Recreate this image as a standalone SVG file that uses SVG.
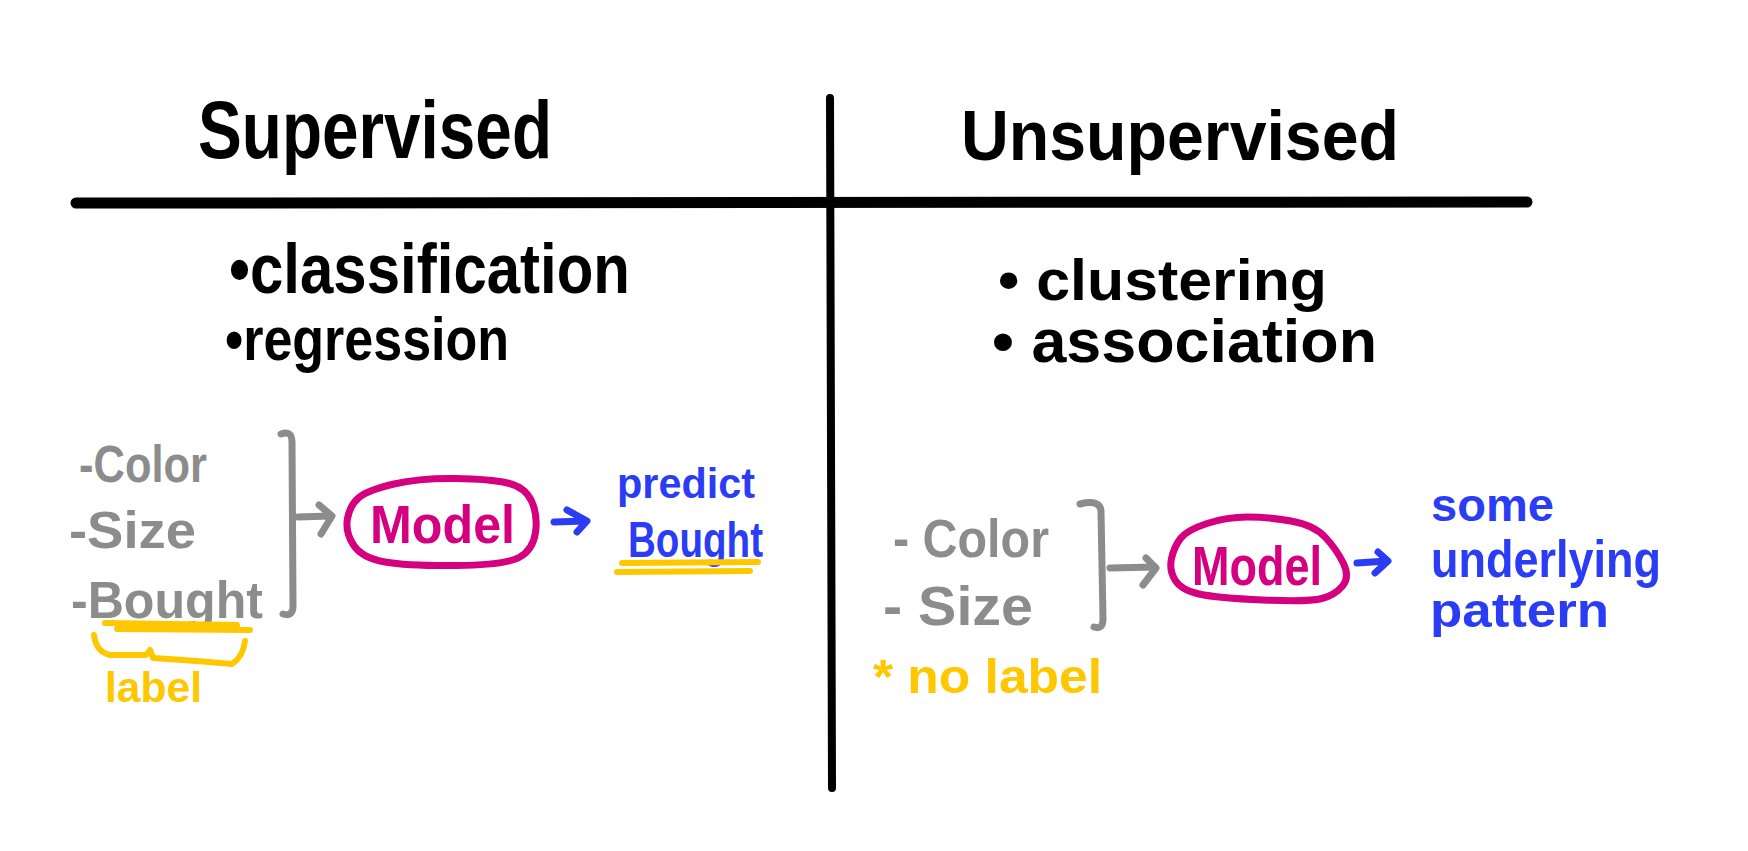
<svg xmlns="http://www.w3.org/2000/svg" width="1748" height="851" viewBox="0 0 1748 851">
<style>
text{font-family:"Liberation Sans","DejaVu Sans",sans-serif;font-weight:bold}
.k{fill:#000}
.g{fill:#8c8c8c}
.m{fill:#d4007f}
.b{fill:#2b3cf5}
.y{fill:#ffc700}
.ln{fill:none;stroke-linecap:round;stroke-linejoin:round}
.gs{stroke:#8c8c8c;stroke-width:7}
.bs{stroke:#2b3cf5;stroke-width:7}
.ys{stroke:#ffc700;stroke-width:6}
.ms{stroke:#d4007f;stroke-width:7}
</style>
<rect width="1748" height="851" fill="#fff"/>
<g id="grid">
<path class="ln" d="M830,98 L832,788" stroke="#000" stroke-width="8"/>
<path class="ln" d="M76,203 L1527,202" stroke="#000" stroke-width="11"/>
</g>
<g id="headings">
<text class="k" x="198" y="158" font-size="82" textLength="354" lengthAdjust="spacingAndGlyphs">Supervised</text>
<text class="k" x="961" y="160" font-size="70" textLength="438" lengthAdjust="spacingAndGlyphs">Unsupervised</text>
</g>
<g id="sup-types">
<text class="k" x="229" y="293" font-size="70" textLength="401" lengthAdjust="spacingAndGlyphs">•classification</text>
<text class="k" x="225" y="360" font-size="62" textLength="284" lengthAdjust="spacingAndGlyphs">•regression</text>
</g>
<g id="unsup-types">
<text class="k" x="998" y="300" font-size="58" textLength="329" lengthAdjust="spacingAndGlyphs">• clustering</text>
<text class="k" x="992" y="362" font-size="62" textLength="385" lengthAdjust="spacingAndGlyphs">• association</text>
</g>
<g id="sup-features">
<text class="g" x="79" y="482" font-size="52" textLength="128" lengthAdjust="spacingAndGlyphs">-Color</text>
<text class="g" x="69" y="548" font-size="52" textLength="127" lengthAdjust="spacingAndGlyphs">-Size</text>
<text class="g" x="71" y="618" font-size="52" textLength="192" lengthAdjust="spacingAndGlyphs">-Bought</text>
<path class="ln ys" d="M105,623 L237,625 M117,629 L250,630"/>
<path class="ln ys" d="M94,635 Q96,652 110,655 L146,655 L150,650 L153,658 Q200,661 232,664 Q243,657 245,641"/>
<text class="y" x="105" y="702" font-size="42" textLength="97" lengthAdjust="spacingAndGlyphs">label</text>
</g>
<g id="sup-model">
<path class="ln ms" d="M394,484 Q420,478 455,478.5 Q490,479 507.5,483 Q525,487 531.5,501 Q538,515 535.5,532.5 Q533,550 519,557.5 Q505,565 456.5,565.5 Q408,566 385,562 Q362,558 353.5,545 Q345,532 347.5,518.5 Q350,505 359,497.5 Q368,490 394,484 Z"/>
<text class="m" x="370" y="543" font-size="53" textLength="145" lengthAdjust="spacingAndGlyphs">Model</text>
</g>
<g id="sup-output">
<text class="b" x="617" y="498" font-size="43" textLength="138" lengthAdjust="spacingAndGlyphs">predict</text>
<text class="b" x="628" y="557" font-size="50" textLength="135" lengthAdjust="spacingAndGlyphs">Bought</text>
<path class="ln ys" d="M622,563 L758,562 M617,572 L750,571"/>
</g>
<g id="unsup-features">
<text class="g" x="893" y="557" font-size="53" textLength="156" lengthAdjust="spacingAndGlyphs">- Color</text>
<text class="g" x="883" y="625" font-size="56" textLength="150" lengthAdjust="spacingAndGlyphs">- Size</text>
<text class="y" x="873" y="693" font-size="48" textLength="229" lengthAdjust="spacingAndGlyphs">* no label</text>
</g>
<g id="unsup-model">
<path class="ln ms" d="M1207,523.5 Q1227,517 1247.5,517 Q1268,517 1291,521 Q1314,525 1325.5,537.5 Q1337,550 1343.5,563.5 Q1350,577 1342.5,586 Q1335,595 1322,598.5 Q1309,602 1263,600 Q1217,598 1199,594 Q1181,590 1175,580 Q1169,570 1171.5,558.5 Q1174,547 1180.5,538.5 Q1187,530 1207,523.5 Z"/>
<text class="m" x="1192" y="585" font-size="55" textLength="130" lengthAdjust="spacingAndGlyphs">Model</text>
</g>
<g id="unsup-output">
<text class="b" x="1431" y="521" font-size="46" textLength="123" lengthAdjust="spacingAndGlyphs">some</text>
<text class="b" x="1431" y="577" font-size="52" textLength="230" lengthAdjust="spacingAndGlyphs">underlying</text>
<text class="b" x="1430" y="627" font-size="48" textLength="179" lengthAdjust="spacingAndGlyphs">pattern</text>
</g>
<g id="connectors">
<path class="ln gs" d="M281,434 Q292,430 292,442 L293,606 Q293,617 283,614"/>
<path class="ln gs" d="M298,517 L331,516 M319,505 L332,516 L321,534"/>
<path class="ln bs" d="M554,522 L586,521 M567,510 L587,521 L577,532"/>
<path class="ln gs" d="M1080,504 Q1101,499 1101,512 L1103,619 Q1103,630 1094,627"/>
<path class="ln gs" d="M1110,568 L1155,567 M1146,558 L1156,568 L1143,585"/>
<path class="ln bs" d="M1357,563 L1387,561 M1378,552 L1388,561 L1375,573"/>
</g>
</svg>
